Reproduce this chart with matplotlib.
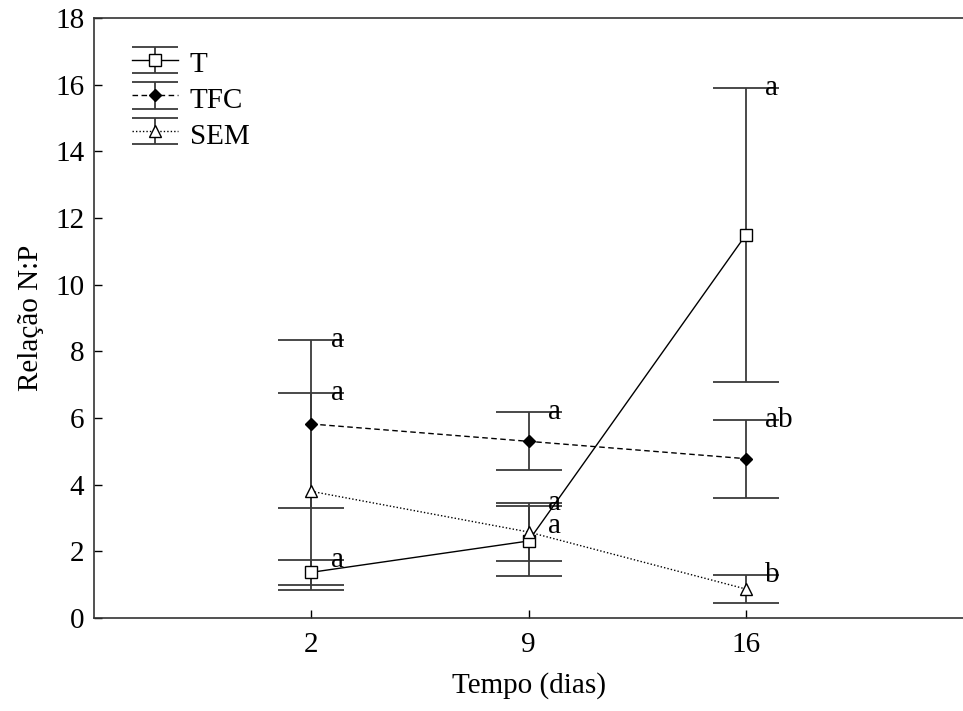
import matplotlib
matplotlib.use("Agg")
import matplotlib.pyplot as plt
from matplotlib.legend_handler import HandlerErrorbar
from matplotlib.lines import Line2D
import numpy as np

days = ['2', '9', '16']
T_mean = [1.37, 2.31, 11.49]
T_err = [0.38, 1.05, 4.41]
TFC_mean = [5.82, 5.30, 4.78]
TFC_err = [2.52, 0.87, 1.17]
SEM_mean = [3.80, 2.58, 0.87]
SEM_err = [2.95, 0.87, 0.42]
T_letters = ['a', 'a', 'a']
TFC_letters = ['a', 'a', 'ab']
SEM_letters = ['a', 'a', 'b']

plt.rcParams['font.family'] = ['Liberation Serif', 'DejaVu Serif']
FS = 21

fig = plt.figure(figsize=(9.63, 7.11), dpi=100)
ax = fig.add_axes([94 / 963, 93 / 711, 869 / 963, 600 / 711])

x = np.arange(len(days))
ecol = '#3a3a3a'
common = dict(ecolor=ecol, elinewidth=1.3, capsize=24, capthick=1.3, color='black', lw=1.0)

h1 = ax.errorbar(x, T_mean, yerr=T_err, marker='s', mfc='white', mec='black', ls='-',
                 label='T', markersize=8, **common)
h2 = ax.errorbar(x, TFC_mean, yerr=TFC_err, marker='D', mfc='black', mec='black', ls=(0, (4, 2.5)),
                 label='TFC', markersize=6.5, **common)
h3 = ax.errorbar(x, SEM_mean, yerr=SEM_err, marker='^', mfc='white', mec='black', ls=(0, (1, 1.5)),
                 label='SEM', markersize=8, **common)

# significance letters at upper caps, avoiding overlaps
for i in range(len(days)):
    items = [(T_mean[i] + T_err[i], T_letters[i]),
             (TFC_mean[i] + TFC_err[i], TFC_letters[i]),
             (SEM_mean[i] + SEM_err[i], SEM_letters[i])]
    items.sort(key=lambda t: -t[0])
    placed = []
    for y, lab in items:
        if placed and placed[-1] - y < 0.6:
            y = placed[-1] - 0.7
        placed.append(y)
        ax.annotate(lab, xy=(x[i], y), xytext=(14, -5), textcoords='offset points',
                    ha='left', va='baseline', fontsize=FS)

ax.set_xlim(-1, 3)
ax.set_ylim(0, 18)
ax.set_yticks(np.arange(0, 19, 2))
ax.set_xticks(x)
ax.set_xticklabels(days)
ax.tick_params(direction='in', length=6, width=1, labelsize=FS, pad=10)
ax.tick_params(axis='y', pad=7)
for s in ax.spines.values():
    s.set_linewidth(1.2)
    s.set_color('#333333')
ax.spines['right'].set_visible(False)

ax.set_xlabel('Tempo (dias)', fontsize=FS, labelpad=10)
ax.set_ylabel('Relação N:P', fontsize=FS, labelpad=8)


class WideCapHandler(HandlerErrorbar):
    def create_artists(self, *args, **kwargs):
        arts = super().create_artists(*args, **kwargs)
        for a in arts:
            if isinstance(a, Line2D) and a.get_marker() == '_':
                a.set_markersize(33)
        return arts


hm = {h: WideCapHandler(yerr_size=0.45) for h in (h1, h2, h3)}
leg = ax.legend(handles=[h1, h2, h3], loc='upper left', bbox_to_anchor=(0.013, 0.995),
                frameon=False, fontsize=FS, handlelength=1.6, handleheight=1.2,
                labelspacing=0.17, handletextpad=0.4, handler_map=hm)

fig.savefig('out.png', dpi=100)
